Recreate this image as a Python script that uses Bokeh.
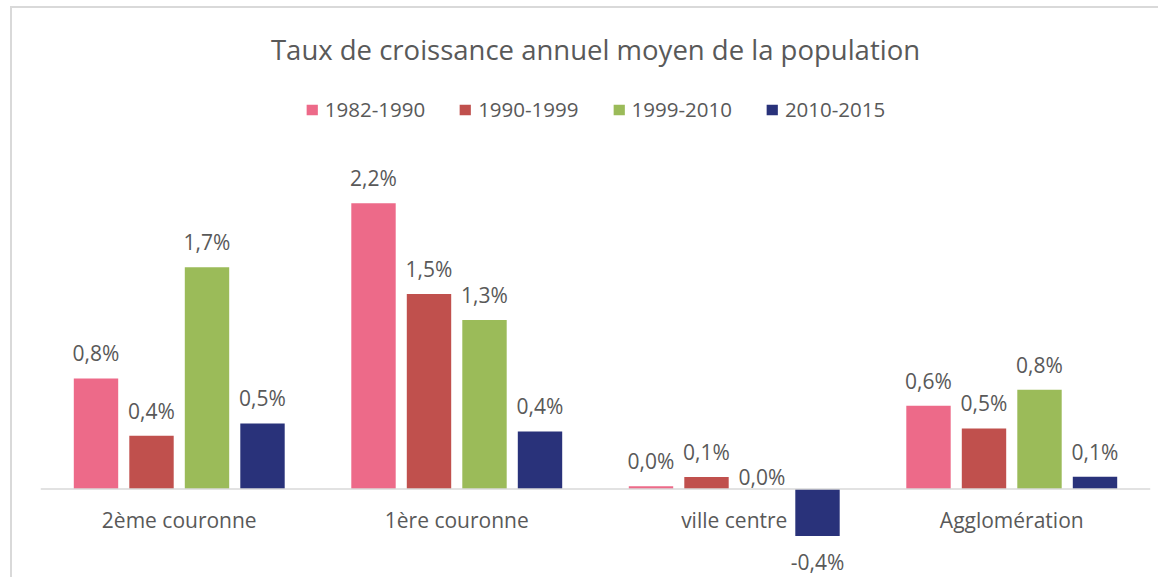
from bokeh.plotting import figure
from bokeh.models import FactorRange, Range1d, Span, ColumnDataSource
from bokeh.transform import dodge
from bokeh.core.properties import value
from bokeh.embed import file_html
from bokeh.resources import INLINE

categories = ["2ème couronne", "1ère couronne", "ville centre", "Agglomération"]
series = ["1982-1990", "1990-1999", "1999-2010", "2010-2015"]
v_1982_1990 = [0.838, 2.164, 0.020, 0.631]
v_1990_1999 = [0.404, 1.477, 0.090, 0.459]
v_1999_2010 = [1.679, 1.280, 0.000, 0.752]
v_2010_2015 = [0.497, 0.436, -0.356, 0.093]
values = [v_1982_1990, v_1990_1999, v_1999_2010, v_2010_2015]
colors = ["#ED6A89", "#C0504D", "#9BBB59", "#29327A"]
offsets = [-0.3, -0.1, 0.1, 0.3]

FONT = "Open Sans"
TXT = "#595959"
PX_PER_UNIT = 132.0
FRAME_TOP = 78.0
BASE_Y = 488.5
FRAME_BOTTOM = 579.0

p = figure(
    x_range=FactorRange(*categories, range_padding=0),
    y_range=Range1d((BASE_Y - FRAME_BOTTOM) / PX_PER_UNIT, (BASE_Y - FRAME_TOP) / PX_PER_UNIT),
    width=1148, height=571,
    output_backend="svg", toolbar_location=None,
    x_axis_type=None, y_axis_type=None,
    title="Taux de croissance annuel moyen de la population",
    min_border_left=28, min_border_right=10, min_border_top=70, min_border_bottom=0,
)
p.styles = {"margin-left": "10px", "margin-top": "6px",
            "border-top": "2px solid #D9D9D9", "border-left": "2px solid #D9D9D9"}
p.outline_line_color = None
p.background_fill_color = "white"
p.border_fill_color = "white"
p.title.align = "center"
p.title.text_font = FONT
p.title.text_font_size = "27.5px"
p.title.text_font_style = "normal"
p.title.text_color = TXT
p.title.standoff = 20.5

p.add_layout(Span(location=0, dimension="width", line_color="#D9D9D9", line_width=1.5))

def fmt(v):
    return ("%.1f" % v).replace(".", ",") + "%"

for name, vals, col, off in zip(series, values, colors, offsets):
    yoff = []
    for v in vals:
        if v > 0:
            yoff.append(-25.0)
        elif v < 0:
            yoff.append(26.5)
        else:
            yoff.append(-12.2)
    src = ColumnDataSource(dict(cat=categories, val=vals, lab=[fmt(v) for v in vals], yoff=yoff))
    p.vbar(x=dodge("cat", off, range=p.x_range), top="val", bottom=0, width=0.16,
           fill_color=col, line_color=None, source=src, legend_label=name)
    p.text(x=dodge("cat", off, range=p.x_range), y="val", text="lab", source=src,
           y_offset="yoff", text_align="center", text_baseline="alphabetic",
           text_font=value(FONT), text_font_size="21px", text_color=TXT)

cat_src = ColumnDataSource(dict(cat=categories, y=[0] * len(categories)))
p.text(x="cat", y="y", text="cat", source=cat_src, y_offset=30.5, text_align="center",
       text_baseline="alphabetic", text_font=value(FONT), text_font_size="21px", text_color=TXT)

lg = p.legend[0]
lg.location = "top_center"
lg.orientation = "horizontal"
lg.margin = 17
lg.padding = 0
lg.spacing = 33
lg.border_line_color = None
lg.background_fill_alpha = 0
lg.label_text_font = FONT
lg.label_text_font_size = "20.5px"
lg.label_text_color = TXT
lg.glyph_width = 14
lg.glyph_height = 13
lg.label_standoff = 6
lg.label_height = 20

open("out.html", "w").write(file_html(p, INLINE))
